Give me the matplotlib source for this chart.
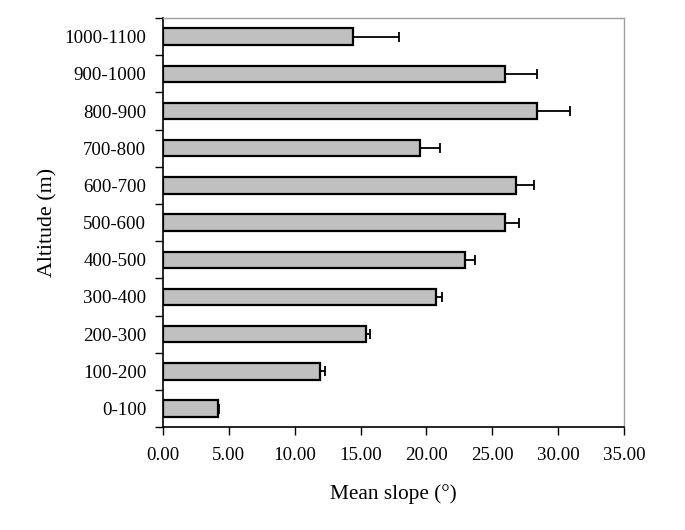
import numpy as np
import matplotlib
matplotlib.use("Agg")
import matplotlib.pyplot as plt

plt.rcParams['font.family'] = ['Liberation Serif', 'DejaVu Serif']

altitude = ['0-100', '100-200', '200-300', '300-400', '400-500', '500-600',
            '600-700', '700-800', '800-900', '900-1000', '1000-1100']
mean_slope = [4.15, 11.92, 15.41, 20.73, 22.93, 25.94, 26.78, 19.50, 28.40, 26.00, 14.43]
slope_err = [0.08, 0.35, 0.30, 0.48, 0.76, 1.10, 1.40, 1.55, 2.50, 2.40, 3.50]

fig = plt.figure(figsize=(6.85, 5.3), dpi=100)
ax = fig.add_axes([0.238, 0.194, 0.673, 0.772])

y = np.arange(len(altitude))
ax.barh(y, mean_slope, height=0.44, color='#c0c0c0', edgecolor='black', linewidth=1.6, zorder=2)
ax.errorbar(mean_slope, y, xerr=[np.zeros(len(slope_err)), slope_err], fmt='none',
            ecolor='black', elinewidth=1.3, capsize=3.6, capthick=1.3, zorder=3)

ax.set_xlim(0, 35)
ax.set_ylim(-0.5, len(altitude) - 0.5)
ax.set_xticks(np.arange(0, 36, 5))
ax.set_xticklabels(['%.2f' % v for v in np.arange(0, 36, 5)])
ax.set_yticks(y)
ax.set_yticklabels(altitude)
ax.set_yticks(np.arange(-0.5, len(altitude), 1), minor=True)
ax.tick_params(axis='y', which='major', length=0, pad=12, labelsize=13.6)
ax.tick_params(axis='y', which='minor', length=6, width=1, direction='out')
ax.tick_params(axis='x', length=6, width=1, direction='out', pad=8, labelsize=13.6)

for s in ['left', 'bottom']:
    ax.spines[s].set_color('black')
    ax.spines[s].set_linewidth(1.2)
for s in ['top', 'right']:
    ax.spines[s].set_color('#a0a0a0')
    ax.spines[s].set_linewidth(1.0)

ax.set_xlabel('Mean slope (°)', fontsize=15.3, labelpad=15)
ax.set_ylabel('Altitude (m)', fontsize=15.8, labelpad=5)

fig.savefig('out.png', dpi=100)
